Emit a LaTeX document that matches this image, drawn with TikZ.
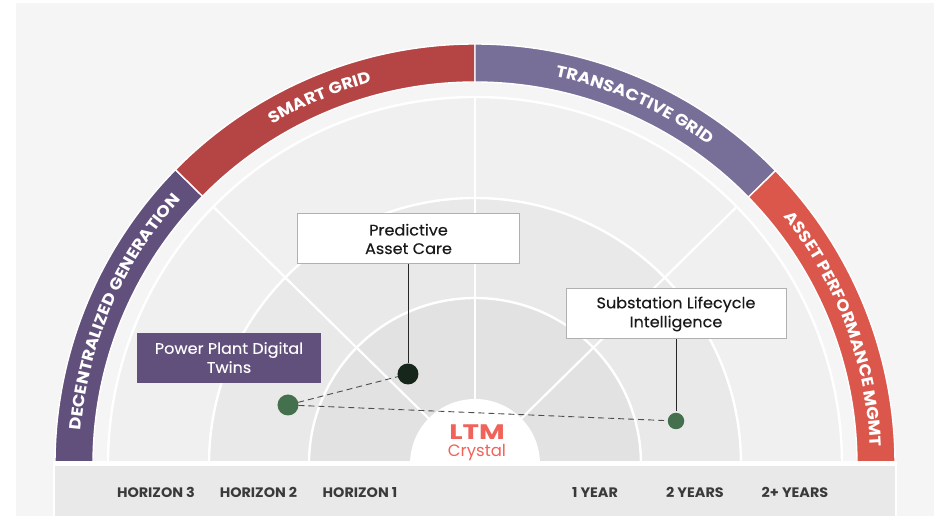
\documentclass[tikz,border=0pt]{standalone}
\usepackage{fontspec}
\setmainfont{Poppins}
\newfontfamily\logofont[FakeStretch=1.33]{Poppins}
\newfontfamily\bandfont[FakeStretch=1.1]{Poppins}
\newfontfamily\cardfont[FakeStretch=1.05,FakeBold=0.2]{Poppins}
\newfontfamily\axisfont[FakeStretch=1.05]{Poppins}
\usetikzlibrary{decorations.text}
\definecolor{pagebg}{HTML}{F5F5F5}
\definecolor{ringA}{HTML}{F0F0F0}
\definecolor{ringB}{HTML}{E9E9E9}
\definecolor{ringC}{HTML}{E2E2E2}
\definecolor{barbg}{HTML}{E9E9E9}
\definecolor{bandPurple}{HTML}{62507C}
\definecolor{bandRed}{HTML}{B54545}
\definecolor{bandSlate}{HTML}{786F99}
\definecolor{bandCoral}{HTML}{DB564B}
\definecolor{cardline}{HTML}{B0B0B0}
\definecolor{labeltext}{HTML}{3A3A3A}
\definecolor{darkdot}{HTML}{16261A}
\definecolor{greendot}{HTML}{45704D}
\definecolor{logocoral}{HTML}{F0625A}
\newcommand{\bandseg}[3]{%
  \fill[#3,draw=white,line width=1.4pt] (#1:382pt) arc[start angle=#1,end angle=#2,radius=382pt]
    -- (#2:420pt) arc[start angle=#2,end angle=#1,radius=420pt] -- cycle;}
\newcommand{\bandtext}[2]{%
  \path[decorate,decoration={text along path,text align=center,text color=white,
    text={|\bandfont\fontsize{16}{18}\selectfont\bfseries|#2}}]
    ({#1+42}:395.5pt) arc[start angle={#1+42},end angle={#1-42},radius=395.5pt];}
\tikzset{
  ringline/.style={draw=white,line width=2.4pt},
  spoke/.style={draw=white,line width=2.2pt},
  card/.style={draw=cardline,fill=white,line width=1pt,minimum width=221pt,minimum height=50pt,
    align=center,font=\cardfont\fontsize{15.3}{19}\selectfont,text=black!90,inner sep=0pt},
  purplecard/.style={fill=bandPurple,minimum width=184pt,minimum height=50pt,align=center,
    font=\cardfont\fontsize{15.3}{19}\selectfont,text=white,inner sep=0pt},
  axislabel/.style={font=\axisfont\fontsize{13.7}{16}\selectfont\bfseries,text=labeltext,inner sep=0pt,anchor=base},
  dot/.style={circle,inner sep=0pt,outer sep=0pt},
  stem/.style={draw=black!85,line width=0.9pt},
  dashlink/.style={draw=black!70,line width=0.9pt,dash pattern=on 6pt off 4pt},
}
\begin{document}
\begin{tikzpicture}[x=1pt,y=1pt]
\useasboundingbox (-475,-52) rectangle (459,464);
\fill[white] (-475,-52) rectangle (459,464);
\fill[pagebg] (-459,-52) rectangle (459,461);
\begin{scope}
  \clip (-430,3) rectangle (430,430);
  \bandseg{180}{135.5}{bandPurple}
  \bandseg{135.5}{90}{bandRed}
  \bandseg{90}{44.3}{bandSlate}
  \bandseg{44.3}{0}{bandCoral}
  \fill[ringA] (0,0) circle[radius=366pt];
  \draw[ringline] (0,0) circle[radius=367pt];
  \fill[ringB] (0,0) circle[radius=266pt];
  \draw[ringline] (0,0) circle[radius=266pt];
  \fill[ringC] (0,0) circle[radius=166pt];
  \draw[ringline] (0,0) circle[radius=166pt];
  \draw[spoke] (90:60pt) -- (90:367pt);
  \draw[spoke] (135.5:60pt) -- (135.5:367pt);
  \draw[spoke] (44.5:60pt) -- (44.5:367pt);
  \fill[white] (0,0) circle[radius=65pt];
\end{scope}
\fill[white] (-422,-52) rectangle (422,3);
\fill[barbg] (-420,-52) rectangle (420,-2);
\bandtext{156.6}{DECENTRALIZED GENERATION}
\bandtext{113}{SMART GRID}
\bandtext{66}{TRANSACTIVE GRID}
\bandtext{20.6}{ASSET PERFORMANCE MGMT}
\node[inner sep=0pt,text=logocoral,font=\logofont\fontsize{21}{22}\selectfont\bfseries] (logoA) at (2,32) {LTM};
\node[inner sep=0pt,text=logocoral,font=\fontsize{16.5}{18}\selectfont] (logoB) at (2,11.5) {Crystal};
\node[axislabel] (h3) at (-319,-34) {HORIZON 3};
\node[axislabel] (h2) at (-216.5,-34) {HORIZON 2};
\node[axislabel] (h1) at (-115,-34) {HORIZON 1};
\node[axislabel] (y1) at (120,-34) {1 YEAR};
\node[axislabel] (y2) at (220,-34) {2 YEARS};
\node[axislabel] (y3) at (320,-34) {2+ YEARS};
\node[card] (pred) at (-66.5,225) {Predictive\\[-0.5pt]Asset Care};
\node[card,minimum width=220pt] (subs) at (201,150) {\raisebox{-1pt}{Substation Lifecycle}\\\raisebox{-1pt}{Intelligence}};
\node[purplecard] (plant) at (-246,106) {\raisebox{1pt}{Power Plant Digital}\\\raisebox{1pt}{Twins}};
\node[dot,fill=darkdot,minimum size=21pt] (dark) at (-67,90) {};
\node[dot,fill=greendot,minimum size=21pt] (green) at (-187,59) {};
\node[dot,fill=greendot,minimum size=16.5pt] (small) at (201,43) {};
\draw[stem] (pred.south -| dark) -- (dark);
\draw[stem] (subs.south -| small) -- ([yshift=2pt]small.north);
\draw[dashlink] (green) -- (dark);
\draw[dashlink] (green) -- (small);
\end{tikzpicture}
\end{document}
